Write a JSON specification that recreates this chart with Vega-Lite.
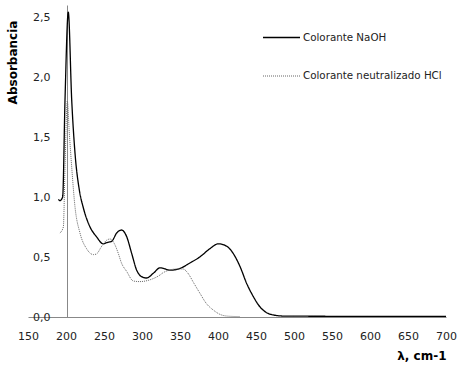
{
  "$schema": "https://vega.github.io/schema/vega-lite/v6.json",
  "autosize": "none",
  "width": 418,
  "height": 312,
  "padding": {"left": 28, "top": 5, "right": 21, "bottom": 54},
  "background": "white",
  "config": {"view": {"stroke": null}, "font": "DejaVu Sans"},
  "data": {"values": [
    {"s": "Colorante NaOH", "x": 190, "y": 0.98},
    {"s": "Colorante NaOH", "x": 192, "y": 0.97},
    {"s": "Colorante NaOH", "x": 195.6, "y": 1.0},
    {"s": "Colorante NaOH", "x": 198.7, "y": 1.81},
    {"s": "Colorante NaOH", "x": 203, "y": 2.54},
    {"s": "Colorante NaOH", "x": 207.5, "y": 1.81},
    {"s": "Colorante NaOH", "x": 211.8, "y": 1.37},
    {"s": "Colorante NaOH", "x": 217.5, "y": 1.06},
    {"s": "Colorante NaOH", "x": 222.8, "y": 0.91},
    {"s": "Colorante NaOH", "x": 231.6, "y": 0.75},
    {"s": "Colorante NaOH", "x": 240, "y": 0.67},
    {"s": "Colorante NaOH", "x": 249, "y": 0.61},
    {"s": "Colorante NaOH", "x": 253.5, "y": 0.62},
    {"s": "Colorante NaOH", "x": 260, "y": 0.63},
    {"s": "Colorante NaOH", "x": 266.7, "y": 0.70},
    {"s": "Colorante NaOH", "x": 273, "y": 0.725},
    {"s": "Colorante NaOH", "x": 279.8, "y": 0.67},
    {"s": "Colorante NaOH", "x": 286.4, "y": 0.53},
    {"s": "Colorante NaOH", "x": 293, "y": 0.39},
    {"s": "Colorante NaOH", "x": 299.6, "y": 0.336},
    {"s": "Colorante NaOH", "x": 306, "y": 0.325},
    {"s": "Colorante NaOH", "x": 315, "y": 0.365},
    {"s": "Colorante NaOH", "x": 323.7, "y": 0.41},
    {"s": "Colorante NaOH", "x": 328, "y": 0.405},
    {"s": "Colorante NaOH", "x": 336.8, "y": 0.39},
    {"s": "Colorante NaOH", "x": 350, "y": 0.405},
    {"s": "Colorante NaOH", "x": 363, "y": 0.45},
    {"s": "Colorante NaOH", "x": 376, "y": 0.50},
    {"s": "Colorante NaOH", "x": 389.5, "y": 0.57},
    {"s": "Colorante NaOH", "x": 400.4, "y": 0.61},
    {"s": "Colorante NaOH", "x": 411.4, "y": 0.59},
    {"s": "Colorante NaOH", "x": 420, "y": 0.53},
    {"s": "Colorante NaOH", "x": 429, "y": 0.42},
    {"s": "Colorante NaOH", "x": 437.7, "y": 0.28},
    {"s": "Colorante NaOH", "x": 446.5, "y": 0.17},
    {"s": "Colorante NaOH", "x": 455, "y": 0.086},
    {"s": "Colorante NaOH", "x": 464, "y": 0.036},
    {"s": "Colorante NaOH", "x": 472.8, "y": 0.017},
    {"s": "Colorante NaOH", "x": 486, "y": 0.008},
    {"s": "Colorante NaOH", "x": 550, "y": 0.006},
    {"s": "Colorante NaOH", "x": 700, "y": 0.006},
    {"s": "Colorante neutralizado HCl", "x": 192, "y": 0.70},
    {"s": "Colorante neutralizado HCl", "x": 196.5, "y": 0.75},
    {"s": "Colorante neutralizado HCl", "x": 198.7, "y": 1.25},
    {"s": "Colorante neutralizado HCl", "x": 201.7, "y": 1.80},
    {"s": "Colorante neutralizado HCl", "x": 204.4, "y": 1.53},
    {"s": "Colorante neutralizado HCl", "x": 207.5, "y": 1.25},
    {"s": "Colorante neutralizado HCl", "x": 211.8, "y": 0.92},
    {"s": "Colorante neutralizado HCl", "x": 218.4, "y": 0.70},
    {"s": "Colorante neutralizado HCl", "x": 227, "y": 0.57},
    {"s": "Colorante neutralizado HCl", "x": 236, "y": 0.52},
    {"s": "Colorante neutralizado HCl", "x": 240, "y": 0.525},
    {"s": "Colorante neutralizado HCl", "x": 247, "y": 0.59},
    {"s": "Colorante neutralizado HCl", "x": 253.5, "y": 0.64},
    {"s": "Colorante neutralizado HCl", "x": 258, "y": 0.65},
    {"s": "Colorante neutralizado HCl", "x": 264.5, "y": 0.60},
    {"s": "Colorante neutralizado HCl", "x": 268.8, "y": 0.53},
    {"s": "Colorante neutralizado HCl", "x": 273, "y": 0.45},
    {"s": "Colorante neutralizado HCl", "x": 279.8, "y": 0.38},
    {"s": "Colorante neutralizado HCl", "x": 288.6, "y": 0.30},
    {"s": "Colorante neutralizado HCl", "x": 297, "y": 0.295},
    {"s": "Colorante neutralizado HCl", "x": 310.5, "y": 0.31},
    {"s": "Colorante neutralizado HCl", "x": 323.7, "y": 0.35},
    {"s": "Colorante neutralizado HCl", "x": 328, "y": 0.37},
    {"s": "Colorante neutralizado HCl", "x": 345.6, "y": 0.40},
    {"s": "Colorante neutralizado HCl", "x": 354, "y": 0.40},
    {"s": "Colorante neutralizado HCl", "x": 361, "y": 0.36},
    {"s": "Colorante neutralizado HCl", "x": 367.5, "y": 0.29},
    {"s": "Colorante neutralizado HCl", "x": 376, "y": 0.20},
    {"s": "Colorante neutralizado HCl", "x": 385, "y": 0.11},
    {"s": "Colorante neutralizado HCl", "x": 393.8, "y": 0.058},
    {"s": "Colorante neutralizado HCl", "x": 402.6, "y": 0.022},
    {"s": "Colorante neutralizado HCl", "x": 411.4, "y": 0.008},
    {"s": "Colorante neutralizado HCl", "x": 429, "y": 0.003}
  ]},
  "mark": {"type": "line", "interpolate": "monotone"},
  "encoding": {
    "x": {
      "field": "x", "type": "quantitative",
      "scale": {"domain": [150, 700], "nice": false, "zero": false},
      "axis": {
        "values": [150, 200, 250, 300, 350, 400, 450, 500, 550, 600, 650, 700],
        "grid": false, "ticks": false, "domainColor": "#888888",
        "labelFontSize": 11, "labelColor": "#222222", "labelPadding": 13,
        "labelFlush": false,
        "title": "λ, cm-1", "titleFontSize": 12, "titleFontWeight": "bold",
        "titleAnchor": "end", "titleAlign": "right", "titleX": 418, "titleY": 38,
        "titleBaseline": "middle", "titleColor": "#000000"
      }
    },
    "y": {
      "field": "y", "type": "quantitative",
      "scale": {"domain": [0, 2.6], "nice": false},
      "axis": {
        "values": [0, 0.5, 1, 1.5, 2, 2.5],
        "offset": -39,
        "grid": false, "ticks": false, "domainColor": "#888888",
        "labelFontSize": 11, "labelColor": "#222222", "labelPadding": 17,
        "labelExpr": "replace(format(datum.value, '.1f'), '.', ',')",
        "title": "Absorbancia", "titleFontSize": 12, "titleFontWeight": "bold",
        "titleX": -55, "titleY": 57, "titleAngle": -90, "titleAlign": "center",
        "titleBaseline": "middle", "titleColor": "#000000"
      }
    },
    "color": {
      "field": "s", "type": "nominal",
      "scale": {"domain": ["Colorante NaOH", "Colorante neutralizado HCl"], "range": ["#000000", "#666666"]},
      "legend": {
        "title": null, "orient": "none", "legendX": 234, "legendY": 13,
        "symbolType": "stroke", "symbolSize": 1369, "symbolStrokeWidth": 1.3,
        "labelFontSize": 10.3, "labelColor": "#222222", "rowPadding": 14, "labelOffset": 2
      }
    },
    "strokeDash": {
      "field": "s", "type": "nominal",
      "scale": {"domain": ["Colorante NaOH", "Colorante neutralizado HCl"], "range": [[1, 0], [1, 1]]},
      "legend": {
        "title": null, "orient": "none", "legendX": 234, "legendY": 13,
        "symbolType": "stroke", "symbolSize": 1369, "symbolStrokeWidth": 1.3,
        "labelFontSize": 10.3, "labelColor": "#222222", "rowPadding": 14, "labelOffset": 2
      }
    },
    "strokeWidth": {
      "field": "s", "type": "nominal",
      "scale": {"domain": ["Colorante NaOH", "Colorante neutralizado HCl"], "range": [1.3, 1]},
      "legend": null
    }
  }
}
